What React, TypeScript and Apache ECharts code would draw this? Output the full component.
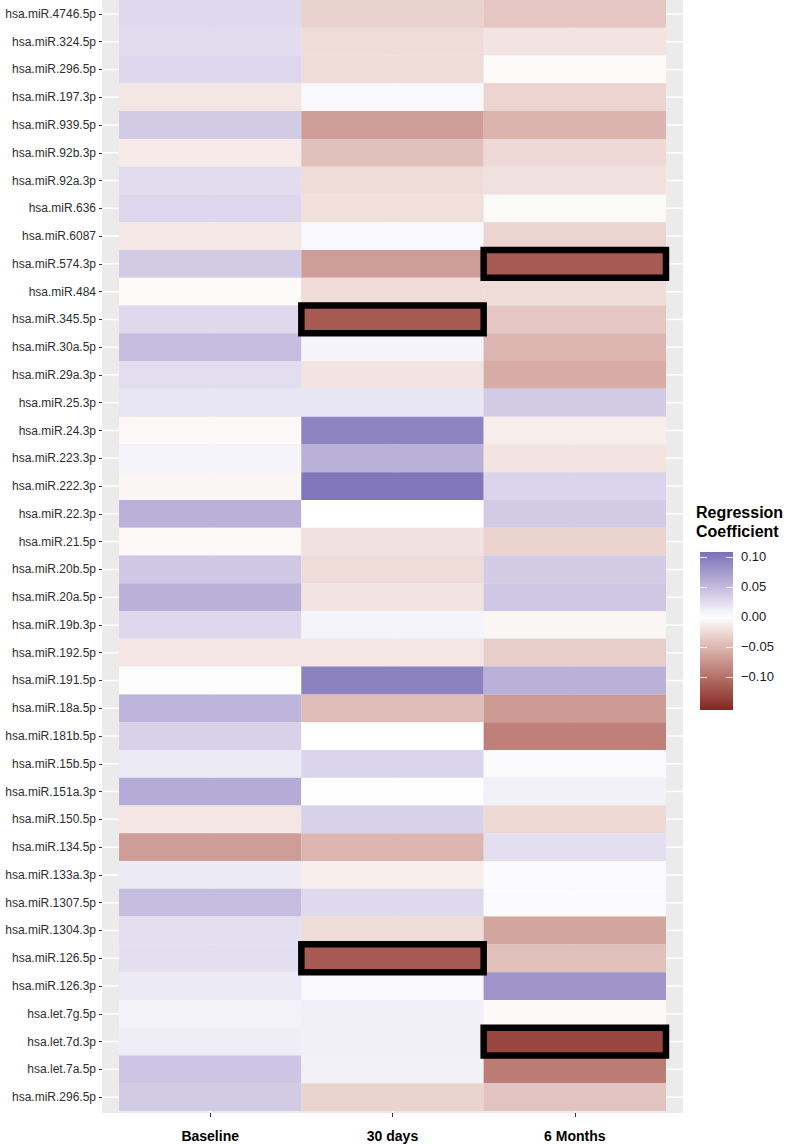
import React, { useEffect, useRef } from "react";
import * as echarts from "echarts";

// ---------- data ----------
const mirnas = [
  "hsa.miR.4746.5p", "hsa.miR.324.5p", "hsa.miR.296.5p", "hsa.miR.197.3p", "hsa.miR.939.5p",
  "hsa.miR.92b.3p", "hsa.miR.92a.3p", "hsa.miR.636", "hsa.miR.6087", "hsa.miR.574.3p",
  "hsa.miR.484", "hsa.miR.345.5p", "hsa.miR.30a.5p", "hsa.miR.29a.3p", "hsa.miR.25.3p",
  "hsa.miR.24.3p", "hsa.miR.223.3p", "hsa.miR.222.3p", "hsa.miR.22.3p", "hsa.miR.21.5p",
  "hsa.miR.20b.5p", "hsa.miR.20a.5p", "hsa.miR.19b.3p", "hsa.miR.192.5p", "hsa.miR.191.5p",
  "hsa.miR.18a.5p", "hsa.miR.181b.5p", "hsa.miR.15b.5p", "hsa.miR.151a.3p", "hsa.miR.150.5p",
  "hsa.miR.134.5p", "hsa.miR.133a.3p", "hsa.miR.1307.5p", "hsa.miR.1304.3p", "hsa.miR.126.5p",
  "hsa.miR.126.3p", "hsa.let.7g.5p", "hsa.let.7d.3p", "hsa.let.7a.5p", "hsa.miR.296.5p",
];

const timepoints = ["Baseline", "30 days", "6 Months"];

const baseline = [
  0.027, 0.025, 0.029, -0.017, 0.038,
  -0.014, 0.025, 0.029, -0.015, 0.038,
  -0.003, 0.027, 0.048, 0.024, 0.018,
  -0.005, 0.008, -0.006, 0.057, -0.005,
  0.040, 0.057, 0.028, -0.017, -0.0015,
  0.054, 0.033, 0.0155, 0.062, -0.017,
  -0.068, 0.0155, 0.048, 0.023, 0.023,
  0.0155, 0.0097, 0.013, 0.042, 0.038,
];

const days30 = [
  -0.032, -0.024, -0.024, 0.005, -0.068,
  -0.044, -0.025, -0.022, 0.005, -0.068,
  -0.024, -0.117, 0.008, -0.019, 0.018,
  0.093, 0.057, 0.103, 0.0, -0.02,
  -0.024, -0.019, 0.008, -0.017, 0.094,
  -0.046, 0.0, 0.03, 0.001, 0.033,
  -0.051, -0.012, 0.027, -0.025, -0.117,
  0.005, 0.011, 0.011, 0.01, -0.03,
];

const months6 = [
  -0.039, -0.019, -0.003, -0.029, -0.052,
  -0.026, -0.02, -0.003, -0.029, -0.117,
  -0.024, -0.039, -0.051, -0.058, 0.038,
  -0.012, -0.019, 0.03, 0.038, -0.03,
  0.038, 0.04, -0.006, -0.034, 0.057,
  -0.071, -0.089, 0.003, 0.01, -0.027,
  0.023, 0.003, 0.003, -0.063, -0.044,
  0.079, -0.004, -0.132, -0.092, -0.041,
];

// significant cells: [miRNA, timepoint]
const significant = [
  ["hsa.miR.574.3p", "6 Months"],
  ["hsa.miR.345.5p", "30 days"],
  ["hsa.miR.126.5p", "30 days"],
  ["hsa.let.7d.3p", "6 Months"],
];

const legendTicks = [0.1, 0.05, 0, -0.05, -0.1];
const COLORBAR_MIN = -0.155;
const COLORBAR_MAX = 0.1083;

// ---------- colour scale (ggplot-like gradient2 in Lab space) ----------
const LOW = "#832424";
const MID = "#ffffff";
const HIGH = "#3a3a98";
const LIMIT = 0.155;

function hexToRgb(h: string) {
  const n = parseInt(h.slice(1), 16);
  return [(n >> 16) & 255, (n >> 8) & 255, n & 255];
}
function toLin(c: number) {
  c /= 255;
  return c <= 0.04045 ? c / 12.92 : Math.pow((c + 0.055) / 1.055, 2.4);
}
function toSrgb(c: number) {
  const v = c <= 0.0031308 ? 12.92 * c : 1.055 * Math.pow(Math.max(c, 0), 1 / 2.4) - 0.055;
  return Math.round(Math.max(0, Math.min(1, v)) * 255);
}
function rgbToLab(rgb: number[]) {
  const R = toLin(rgb[0]), G = toLin(rgb[1]), B = toLin(rgb[2]);
  const X = (0.4124 * R + 0.3576 * G + 0.1805 * B) / 0.95047;
  const Y = 0.2126 * R + 0.7152 * G + 0.0722 * B;
  const Z = (0.0193 * R + 0.1192 * G + 0.9505 * B) / 1.08883;
  const f = (t: number) => (t > 0.008856 ? Math.cbrt(t) : 7.787 * t + 16 / 116);
  const fx = f(X), fy = f(Y), fz = f(Z);
  return [116 * fy - 16, 500 * (fx - fy), 200 * (fy - fz)];
}
function labToHex(lab: number[]) {
  const fy = (lab[0] + 16) / 116;
  const fx = fy + lab[1] / 500;
  const fz = fy - lab[2] / 200;
  const inv = (t: number) => (t * t * t > 0.008856 ? t * t * t : (t - 16 / 116) / 7.787);
  const X = inv(fx) * 0.95047, Y = inv(fy), Z = inv(fz) * 1.08883;
  const R = 3.2406 * X - 1.5372 * Y - 0.4986 * Z;
  const G = -0.9689 * X + 1.8758 * Y + 0.0415 * Z;
  const B = 0.0557 * X - 0.204 * Y + 1.057 * Z;
  return "#" + [R, G, B].map((c) => toSrgb(c).toString(16).padStart(2, "0")).join("");
}
function colorFor(v: number) {
  const t = Math.max(-1, Math.min(1, v / LIMIT));
  const a = rgbToLab(hexToRgb(MID));
  const b = rgbToLab(hexToRgb(t < 0 ? LOW : HIGH));
  const f = Math.abs(t);
  return labToHex(a.map((x, i) => x + (b[i] - x) * f));
}

const FONT = "'Liberation Sans', Arial, Helvetica, sans-serif";

// axis extents (panel slightly wider than tiles, as in the reference)
const XMIN = 0.4066;
const XMAX = 3.5934;
const YMIN = 0.5;
const YMAX = mirnas.length + 0.572;

export default function App() {
  const ref = useRef<HTMLDivElement>(null);

  useEffect(() => {
    if (!ref.current) return;
    const chart = echarts.init(ref.current, undefined, { renderer: "svg" });

    const columns = [baseline, days30, months6];
    const tiles: number[][] = [];
    columns.forEach((col, ci) => {
      col.forEach((v, ri) => tiles.push([ci + 1, ri + 1, v]));
    });

    const boxes = significant.map(([name, tp]) => [
      timepoints.indexOf(tp) + 1,
      mirnas.indexOf(name) + 1,
    ]);

    const gridLines: number[][] = [];
    mirnas.forEach((_, i) => gridLines.push([0, i + 1]));
    timepoints.forEach((_, i) => gridLines.push([1, i + 1]));

    const nStops = 30;
    const stopsArr: number[] = [];
    for (let i = 0; i <= nStops; i++) stopsArr.push(-LIMIT + (2 * LIMIT * i) / nStops);
    const vmColors = stopsArr.map(colorFor);

    const gradStops = [];
    for (let i = 0; i <= 24; i++) {
      const v = COLORBAR_MAX - ((COLORBAR_MAX - COLORBAR_MIN) * i) / 24;
      gradStops.push({ offset: i / 24, color: colorFor(v) });
    }

    const rowVals = mirnas.map((_, i) => i + 1);
    const colVals = timepoints.map((_, i) => i + 1);

    const option: any = {
      animation: false,
      backgroundColor: "#ffffff",
      textStyle: { fontFamily: FONT },
      title: {
        text: "Regression\nCoefficient",
        left: 696,
        top: 503,
        padding: 0,
        textStyle: {
          fontFamily: FONT,
          fontSize: 16,
          fontWeight: "bold",
          color: "#000000",
          lineHeight: 19,
        },
      },
      grid: [
        {
          left: 102,
          top: 0,
          width: 581,
          height: 1113,
          show: true,
          backgroundColor: "#EBEBEB",
          borderWidth: 0,
          containLabel: false,
          outerBoundsMode: "none",
        },
        {
          left: 700,
          top: 552,
          width: 33,
          height: 158,
          containLabel: false,
          outerBoundsMode: "none",
        },
      ],
      xAxis: [
        {
          type: "value",
          gridIndex: 0,
          min: XMIN,
          max: XMAX,
          axisLine: { show: false },
          splitLine: { show: false },
          axisTick: {
            show: true,
            customValues: colVals,
            length: 4,
            lineStyle: { color: "#333333", width: 1 },
          },
          axisLabel: {
            customValues: colVals,
            formatter: (v: number) => timepoints[Math.round(v) - 1] ?? "",
            fontFamily: FONT,
            fontSize: 14,
            fontWeight: "bold",
            color: "#000000",
            margin: 16,
          },
        },
        {
          type: "value",
          gridIndex: 1,
          min: 0,
          max: 1,
          show: false,
        },
      ],
      yAxis: [
        {
          type: "value",
          gridIndex: 0,
          inverse: true,
          min: YMIN,
          max: YMAX,
          axisLine: { show: false },
          splitLine: { show: false },
          axisTick: {
            show: true,
            customValues: rowVals,
            length: 3,
            lineStyle: { color: "#333333", width: 1 },
          },
          axisLabel: {
            customValues: rowVals,
            formatter: (v: number) => mirnas[Math.round(v) - 1] ?? "",
            fontFamily: FONT,
            fontSize: 12,
            color: "#2e2e2e",
            margin: 6,
          },
        },
        {
          type: "value",
          gridIndex: 1,
          position: "left",
          min: COLORBAR_MIN,
          max: COLORBAR_MAX,
          z: 10,
          axisLine: { show: false },
          splitLine: { show: false },
          axisLabel: { show: false },
          axisTick: {
            show: true,
            inside: true,
            customValues: legendTicks,
            length: 7,
            lineStyle: { color: "rgba(255,255,255,0.85)", width: 1 },
          },
        },
        {
          type: "value",
          gridIndex: 1,
          position: "right",
          min: COLORBAR_MIN,
          max: COLORBAR_MAX,
          z: 10,
          axisLine: { show: false },
          splitLine: { show: false },
          axisTick: {
            show: true,
            inside: true,
            customValues: legendTicks,
            length: 7,
            lineStyle: { color: "rgba(255,255,255,0.85)", width: 1 },
          },
          axisLabel: {
            customValues: legendTicks,
            inside: false,
            formatter: (v: number) =>
              (v < -1e-9 ? "\u2212" : "") + Math.abs(v).toFixed(2),
            fontFamily: FONT,
            fontSize: 13,
            color: "#1a1a1a",
            margin: 8,
          },
        },
      ],
      visualMap: {
        type: "continuous",
        show: false,
        min: -LIMIT,
        max: LIMIT,
        dimension: 2,
        seriesIndex: 1,
        inRange: { color: vmColors },
      },
      series: [
        {
          type: "custom",
          name: "gridlines",
          xAxisIndex: 0,
          yAxisIndex: 0,
          z: 1,
          silent: true,
          data: gridLines,
          renderItem: (_p: any, api: any) => {
            const kind = api.value(0);
            const pos = api.value(1);
            const a = kind === 0 ? api.coord([XMIN, pos]) : api.coord([pos, YMIN]);
            const b = kind === 0 ? api.coord([XMAX, pos]) : api.coord([pos, YMAX]);
            return {
              type: "line",
              shape: { x1: a[0], y1: a[1], x2: b[0], y2: b[1] },
              style: { stroke: "#ffffff", lineWidth: 1.5 },
            };
          },
        },
        {
          type: "custom",
          name: "tiles",
          xAxisIndex: 0,
          yAxisIndex: 0,
          z: 2,
          data: tiles,
          renderItem: (_p: any, api: any) => {
            const x = api.value(0);
            const y = api.value(1);
            const p0 = api.coord([x - 0.5, y - 0.5]);
            const p1 = api.coord([x + 0.5, y + 0.5]);
            return {
              type: "rect",
              shape: {
                x: Math.min(p0[0], p1[0]),
                y: Math.min(p0[1], p1[1]),
                width: Math.abs(p1[0] - p0[0]),
                height: Math.abs(p1[1] - p0[1]),
              },
              style: { fill: api.visual("color"), stroke: null },
            };
          },
        },
        {
          type: "custom",
          name: "significant",
          xAxisIndex: 0,
          yAxisIndex: 0,
          z: 3,
          data: boxes,
          renderItem: (_p: any, api: any) => {
            const x = api.value(0);
            const y = api.value(1);
            const p0 = api.coord([x - 0.5, y - 0.5]);
            const p1 = api.coord([x + 0.5, y + 0.5]);
            return {
              type: "rect",
              shape: {
                x: Math.min(p0[0], p1[0]),
                y: Math.min(p0[1], p1[1]),
                width: Math.abs(p1[0] - p0[0]),
                height: Math.abs(p1[1] - p0[1]),
              },
              style: { fill: "none", stroke: "#000000", lineWidth: 6.5 },
            };
          },
        },
        {
          type: "custom",
          name: "colorbar",
          xAxisIndex: 1,
          yAxisIndex: 1,
          z: 2,
          silent: true,
          data: [[0, COLORBAR_MIN, COLORBAR_MAX]],
          renderItem: (_p: any, api: any) => {
            const p0 = api.coord([0, COLORBAR_MAX]);
            const p1 = api.coord([1, COLORBAR_MIN]);
            return {
              type: "rect",
              shape: {
                x: Math.min(p0[0], p1[0]),
                y: Math.min(p0[1], p1[1]),
                width: Math.abs(p1[0] - p0[0]),
                height: Math.abs(p1[1] - p0[1]),
              },
              style: {
                fill: new echarts.graphic.LinearGradient(0, 0, 0, 1, gradStops),
              },
            };
          },
        },
      ],
    };

    chart.setOption(option);
    return () => chart.dispose();
  }, []);

  return (
    <div
      ref={ref}
      style={{ position: "absolute", left: 0, top: 0, width: 786, height: 1146 }}
    />
  );
}
